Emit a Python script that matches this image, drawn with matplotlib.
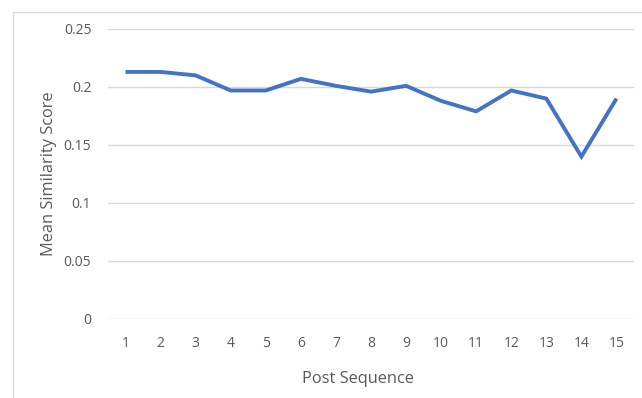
import matplotlib.pyplot as plt
from matplotlib.patches import Rectangle

# data
post_sequence = list(range(1, 16))
mean_similarity = [0.213, 0.213, 0.210, 0.197, 0.197, 0.207, 0.201, 0.196,
                   0.201, 0.188, 0.179, 0.197, 0.190, 0.140, 0.190]
y_ticks = [0, 0.05, 0.1, 0.15, 0.2, 0.25]
y_tick_labels = ["0", "0.05", "0.1", "0.15", "0.2", "0.25"]

plt.rcParams['font.family'] = ['Open Sans', 'DejaVu Sans']
text_grey = '#595959'

fig = plt.figure(figsize=(6.42, 3.98), dpi=100)
ax = fig.add_axes([108 / 642, 1 - 319 / 398, (634 - 108) / 642, (319 - 29) / 398])

ax.plot(post_sequence, mean_similarity, color='#4472C4', linewidth=2.8,
        solid_joinstyle='miter', solid_capstyle='butt', zorder=3)

ax.set_xlim(0.5, 15.5)
ax.set_ylim(0, 0.25)
ax.set_xticks(post_sequence)
ax.set_yticks(y_ticks)
ax.set_yticklabels(y_tick_labels)
ax.tick_params(axis='both', length=0, colors=text_grey, labelsize=10)
ax.tick_params(axis='x', pad=12)
ax.tick_params(axis='y', pad=12)
ax.grid(axis='y', color='#D9D9D9', linewidth=1.0)
ax.set_axisbelow(True)
for s in ax.spines.values():
    s.set_visible(False)

ax.set_xlabel('Post Sequence', color=text_grey, fontsize=11.8)
ax.set_ylabel('Mean Similarity Score', color=text_grey, fontsize=11.8)
ax.xaxis.label.set_va('center')
ax.yaxis.label.set_va('center')
ax.xaxis.set_label_coords(0.475, -0.207)
ax.yaxis.set_label_coords(-0.113, 0.5)

# outer chart frame, cut off at right and bottom
fig.patches.append(Rectangle((13 / 642, -0.1), 1.0, 1 - 12 / 398 + 0.1,
                             transform=fig.transFigure, fill=False,
                             edgecolor='#D9D9D9', linewidth=1.0))

fig.savefig('out.png', dpi=100)
